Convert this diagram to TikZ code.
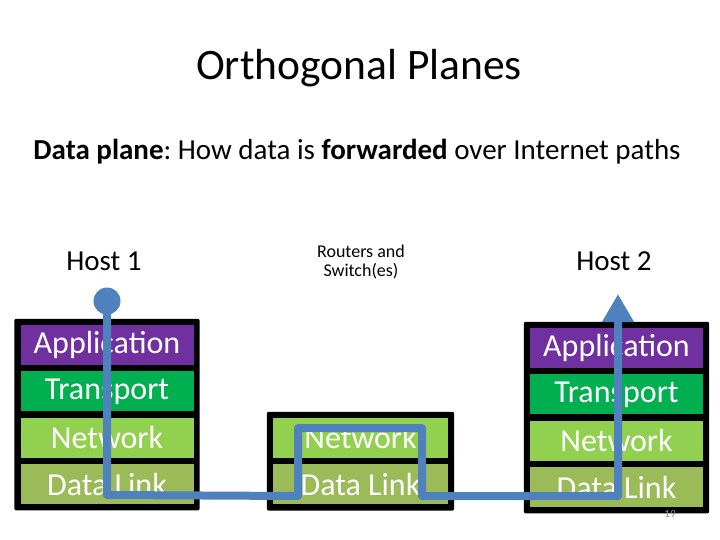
\documentclass[tikz,border=0pt]{standalone}
\usepackage{fontspec}
\setmainfont{Carlito}
\usepackage{tikz}
\usetikzlibrary{arrows.meta, positioning, fit, backgrounds}
\definecolor{cApp}{HTML}{7030A0}
\definecolor{cTrans}{HTML}{00B050}
\definecolor{cNet}{HTML}{92D050}
\definecolor{cLink}{HTML}{9BBB59}
\definecolor{cFlow}{HTML}{4F81BD}
\definecolor{cGray}{HTML}{8C8C8C}
\frenchspacing
\tikzset{
  layer/.style={
    rectangle, fill=#1, minimum width=173pt, minimum height=40pt,
    inner sep=0pt, text=white, font=\fontsize{32}{35}\selectfont
  },
  appl/.style={layer=cApp},
  transl/.style={layer=cTrans},
  netl/.style={layer=cNet},
  linkl/.style={layer=cLink},
  stackbox/.style={fill=black, rounded corners=2pt, inner sep=6pt},
  hostlabel/.style={font=\fontsize{29}{33}\selectfont},
  flow/.style={cFlow, line width=8pt, line join=round},
}

\begin{document}
\begin{tikzpicture}[x=1pt, y=-1pt, node distance=6pt]
  \useasboundingbox (0,0) rectangle (720,540);

  % Titles
  \node[font=\fontsize{43.5}{50}\selectfont] (title) at (359,68) {Orthogonal Planes};
  \node[font=\fontsize{29}{33}\selectfont] (sub) at (357,152)
    {\textbf{Data plane}: How data is \textbf{forwarded} over Internet paths};

  \node[hostlabel] (lbl1) at (104,261) {Host 1};
  \node[hostlabel] (lbl2) at (614,261) {Host 2};
  \node[font=\fontsize{18}{19}\selectfont, align=center] (lblr) at (361,262)
    {Routers and\\Switch(es)};

  % Host 1 stack
  \node[appl] (h1app) at (107,345) {Application};
  \node[transl, below=of h1app] (h1trans) {Transport};
  \node[netl, below=of h1trans] (h1net) {Network};
  \node[linkl, below=of h1net] (h1link) {Data Link};

  % Router stack
  \node[netl, minimum width=175pt] (rtnet) at (360.5,438) {Network};
  \node[linkl, minimum width=175pt, below=of rtnet] (rtlink) {Data Link};

  % Host 2 stack
  \node[appl] (h2app) at (616.5,348) {Application};
  \node[transl, below=of h2app] (h2trans) {Transport};
  \node[netl, below=of h2trans] (h2net) {Network};
  \node[linkl, below=of h2net] (h2link) {Data Link};

  \begin{scope}[on background layer]
    \node[stackbox, fit=(h1app) (h1link)] (h1box) {};
    \node[stackbox, fit=(rtnet) (rtlink)] (rtbox) {};
    \node[stackbox, fit=(h2app) (h2link)] (h2box) {};
  \end{scope}

  % Data path
  \node[circle, fill=cFlow, minimum size=27pt, inner sep=0pt] (src) at (107,301) {};
  \coordinate (dst) at (618,294);
  \coordinate (up) at (298,428);
  \coordinate (down) at (422,428);
  \draw[flow, -{Triangle[width=30pt, length=28pt]}]
    (src.center) -- (src.center |- 0,495) -- (up |- 0,496) -- (up) -- (down)
    -- (down |- 0,496) -- (dst |- 0,496) -- (dst);

  \node[font=\fontsize{11}{13}\selectfont, text=cGray] (pg) at (670,514) {19};

\end{tikzpicture}
\end{document}
